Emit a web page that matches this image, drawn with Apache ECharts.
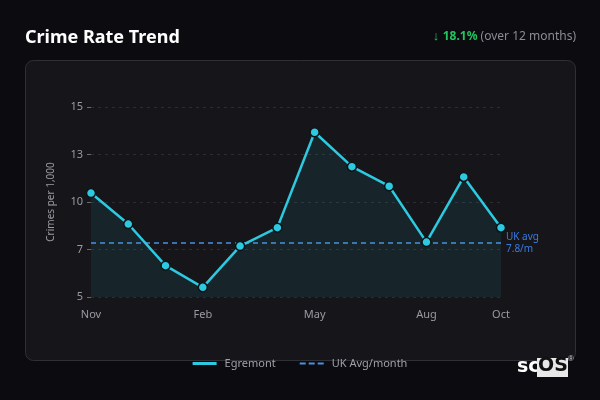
<!DOCTYPE html>
<html>
<head>
<meta charset="utf-8">
<script src="https://cdn.jsdelivr.net/npm/echarts@6/dist/echarts.min.js"></script>
<style>
html,body{margin:0;padding:0;background:#0c0b10;}
#c{width:600px;height:400px;}
</style>
</head>
<body>
<div id="c"></div>
<script>
var months = ['Nov','Dec','Jan','Feb','Mar','Apr','May','Jun','Jul','Aug','Sep','Oct'];
var egremont = [10.47, 8.84, 6.65, 5.51, 7.68, 8.65, 13.67, 11.86, 10.83, 7.89, 11.32, 8.65];
var ukAvg = 7.84;
var yTickValues = [5, 7.5, 10, 12.5, 15];
var yTickLabels = ['5', '7', '10', '13', '15'];
var xLabelIdx = [0, 3, 6, 9, 11];

var chart = echarts.init(document.getElementById('c'), null, {renderer:'canvas'});
var font = '"Noto Sans", "Open Sans", sans-serif';
chart.setOption({
  backgroundColor: '#0c0b10',
  textStyle: {fontFamily: font},
  graphic: [
    {type:'rect', z:-10, shape:{x:25.5, y:60.5, width:550, height:300, r:8},
     style:{fill:'#16161a', stroke:'#2f2f35', lineWidth:1}},
    {type:'text', left:25, top:29, style:{text:'Crime Rate Trend', fill:'#ffffff', font:'bold 18px "Noto Sans", sans-serif'}},
    {type:'text', right:24, top:30, style:{
      text:'{a|↓ }{g|18.1%}{s| (over 12 months)}',
      rich:{
        a:{fill:'#22c55e', font:'13px "Noto Sans", sans-serif'},
        g:{fill:'#22c55e', font:'bold 12px "Noto Sans", sans-serif'},
        s:{fill:'#8b8b94', font:'12px "Noto Sans", sans-serif'}
      }}},
    {type:'text', left:517, top:358, style:{text:'sc', fill:'#ffffff', font:'bold 19px "DejaVu Sans", sans-serif'}},
    {type:'rect', shape:{x:537, y:358, width:31, height:19}, style:{fill:'#e8e8e8'}},
    {type:'text', left:538, top:357, style:{text:'OS', fill:'#111111', font:'bold 19px "DejaVu Sans", sans-serif'}},
    {type:'text', left:568, top:355, style:{text:'®', fill:'#cfcfcf', font:'8px sans-serif'}}
  ],
  legend: {
    bottom: 26, left: 'center', itemGap: 24, itemWidth: 24, itemHeight: 3,
    textStyle: {color:'#a0a0a8', fontSize:11, fontFamily: font, padding:[0,0,0,3]},
    data: [
      {name:'Egremont', icon:'rect', itemStyle:{color:'#2cc9e0', borderWidth:0}},
      {name:'UK Avg/month', icon:'path://M0,0H6V2H0Z M9,0H15V2H9Z M18,0H24V2H18Z', itemStyle:{color:'#4a90e2', borderWidth:0}}
    ]
  },
  grid: {left: 91, right: 99, top: 107, bottom: 103},
  xAxis: {
    type: 'category', data: months, boundaryGap: false,
    axisLine: {show:false}, axisTick: {show:false},
    axisLabel: {color:'#9a9aa2', fontSize:11, margin:12,
      interval: function(i){ return xLabelIdx.indexOf(i) >= 0; }},
    splitLine: {show:false}
  },
  yAxis: {
    type: 'value', min: 5, max: 15, interval: 2.5,
    name: 'Crimes per 1,000', nameLocation: 'middle', nameGap: 35,
    nameTextStyle: {color:'#9a9aa2', fontSize:10},
    axisLine: {show:false},
    axisTick: {show:true, length:4, lineStyle:{color:'#6a6a72'}},
    axisLabel: {color:'#9a9aa2', fontSize:11, margin:8,
      formatter: function(v){ var i = yTickValues.indexOf(v); return i>=0 ? yTickLabels[i] : ''; }},
    splitLine: {lineStyle:{color:'#2c2c33', type:[3,4]}}
  },
  series: [
    {
      name: 'Egremont', type: 'line', data: egremont,
      symbol: 'circle', symbolSize: 9, showAllSymbol: true,
      lineStyle: {color:'#2cc9e0', width:2.5},
      itemStyle: {color:'#2cc9e0', borderColor:'#0c1418', borderWidth:1.5},
      areaStyle: {color:'rgba(34,180,200,0.13)'},
      z: 3
    },
    {
      name: 'UK Avg/month', type: 'line', data: months.map(function(){return ukAvg;}),
      symbol: 'none',
      lineStyle: {color:'#4a90e2', width:1.5, type:[5,4]},
      itemStyle: {color:'#4a90e2'},
      endLabel: {show:true, formatter:'UK avg\n7.8/m', color:'#3b7be0', fontSize:10, distance:5, lineHeight:12, align:'left'},
      z: 2
    }
  ]
});
</script>
</body>
</html>
